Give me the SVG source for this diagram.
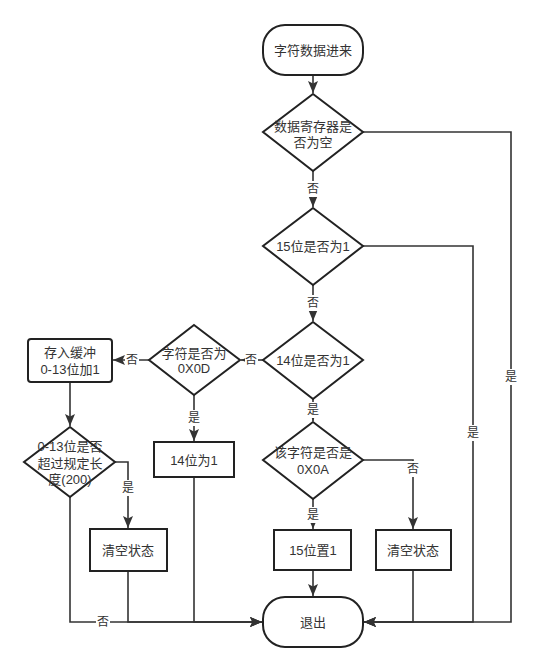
<svg xmlns="http://www.w3.org/2000/svg" width="535" height="671" viewBox="0 0 535 671">
<defs>
<marker id="arr" markerUnits="userSpaceOnUse" markerWidth="14" markerHeight="14" viewBox="0 0 14 14" refX="13" refY="7" orient="auto">
<path d="M1,2 L13,7 L1,12 L3.5,7 z" fill="#333"/>
</marker>
<style>
.n{fill:#fff;stroke:#222;stroke-width:2}
.t{font-family:"Liberation Sans","Noto Sans CJK SC",sans-serif;font-size:13px;fill:#333;text-anchor:middle;dominant-baseline:central}
.c{fill:none;stroke:#333;stroke-width:1.6}
.lb{fill:#fff}
.l{font-family:"Liberation Sans","Noto Sans CJK SC",sans-serif;font-size:12px;fill:#333;text-anchor:middle;dominant-baseline:central}
</style>
</defs>
<rect width="535" height="671" fill="#fff"/>
<g id="connectors">
<path class="c" d="M313,75 V93" marker-end="url(#arr)"/>
<path class="c" d="M313,171 V207" marker-end="url(#arr)"/>
<path class="c" d="M363,132 H511 V622 H364" marker-end="url(#arr)"/>
<path class="c" d="M313,285 V321" marker-end="url(#arr)"/>
<path class="c" d="M363,246 H473 V622 H364" marker-end="url(#arr)"/>
<path class="c" d="M263,360 H241" marker-end="url(#arr)"/>
<path class="c" d="M313,399 V421" marker-end="url(#arr)"/>
<path class="c" d="M313,499 V529" marker-end="url(#arr)"/>
<path class="c" d="M363,460 H413 V529" marker-end="url(#arr)"/>
<path class="c" d="M313,570 V596" marker-end="url(#arr)"/>
<path class="c" d="M413,570 V622 H364" marker-end="url(#arr)"/>
<path class="c" d="M149,360 H113" marker-end="url(#arr)"/>
<path class="c" d="M194,395 V441" marker-end="url(#arr)"/>
<path class="c" d="M194,477 V622 H262" marker-end="url(#arr)"/>
<path class="c" d="M70,382 V426" marker-end="url(#arr)"/>
<path class="c" d="M115,462 H128 V528" marker-end="url(#arr)"/>
<path class="c" d="M70,497 V622 H262" marker-end="url(#arr)"/>
<path class="c" d="M128,571 V622 H262" marker-end="url(#arr)"/>
<g id="labels">
<rect class="lb" x="306" y="181" width="14" height="16"/><text class="l" x="313" y="189">否</text>
<rect class="lb" x="504" y="369" width="14" height="16"/><text class="l" x="511" y="377">是</text>
<rect class="lb" x="306" y="295" width="14" height="16"/><text class="l" x="313" y="303">否</text>
<rect class="lb" x="466" y="425" width="14" height="16"/><text class="l" x="473" y="433">是</text>
<rect class="lb" x="245" y="352" width="13" height="16"/><text class="l" x="251" y="360">否</text>
<rect class="lb" x="306" y="402" width="14" height="16"/><text class="l" x="313" y="410">是</text>
<rect class="lb" x="306" y="507" width="14" height="16"/><text class="l" x="313" y="515">是</text>
<rect class="lb" x="406" y="461" width="14" height="16"/><text class="l" x="413" y="469">否</text>
<rect class="lb" x="125" y="352" width="14" height="16"/><text class="l" x="132" y="360">否</text>
<rect class="lb" x="187" y="410" width="14" height="16"/><text class="l" x="194" y="418">是</text>
<rect class="lb" x="121" y="480" width="14" height="16"/><text class="l" x="128" y="488">是</text>
<rect class="lb" x="96" y="614" width="14" height="16"/><text class="l" x="103" y="622">否</text>
</g>
</g>
<g id="start"><rect class="n" x="263" y="25" width="100" height="50" rx="22"/><text class="t" x="313" y="50">字符数据进来</text></g>
<g id="d1"><path class="n" d="M313,94 L363,132 L313,171 L263,132 z"/><text class="t" x="313" y="126">数据寄存器是</text><text class="t" x="313" y="142">否为空</text></g>
<g id="d2"><path class="n" d="M313,208 L363,246 L313,285 L263,246 z"/><text class="t" x="313" y="246">15位是否为1</text></g>
<g id="d3"><path class="n" d="M313,322 L363,360 L313,399 L263,360 z"/><text class="t" x="313" y="360">14位是否为1</text></g>
<g id="d4"><path class="n" d="M313,422 L363,460 L313,499 L263,460 z"/><text class="t" x="313" y="452">该字符是否是</text><text class="t" x="313" y="469">0X0A</text></g>
<g id="b15"><rect class="n" x="274" y="530" width="77" height="40"/><text class="t" x="313" y="550">15位置1</text></g>
<g id="clear2"><rect class="n" x="376" y="530" width="75" height="40"/><text class="t" x="413" y="550">清空状态</text></g>
<g id="exit"><rect class="n" x="263" y="597" width="100" height="50" rx="22"/><text class="t" x="313" y="622">退出</text></g>
<g id="d5"><path class="n" d="M194,325 L240,360 L194,395 L149,360 z"/><text class="t" x="194" y="353">字符是否为</text><text class="t" x="194" y="368">0X0D</text></g>
<g id="b14"><rect class="n" x="154" y="442" width="80" height="35"/><text class="t" x="194" y="460">14位为1</text></g>
<g id="store"><rect class="n" x="28" y="339" width="84" height="43" rx="3"/><text class="t" x="70" y="352">存入缓冲</text><text class="t" x="70" y="369">0-13位加1</text></g>
<g id="d6"><path class="n" d="M70,427 L115,462 L70,497 L24,462 z"/><text class="t" x="70" y="446">0-13位是否</text><text class="t" x="70" y="463">超过规定长</text><text class="t" x="70" y="479">度(200)</text></g>
<g id="clear1"><rect class="n" x="90" y="529" width="77" height="42"/><text class="t" x="128" y="550">清空状态</text></g>
</svg>
